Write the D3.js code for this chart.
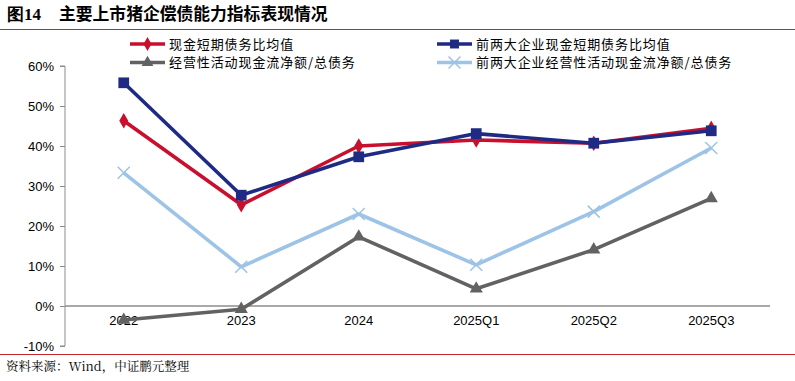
<!DOCTYPE html>
<html><head><meta charset="utf-8">
<script src="https://cdn.jsdelivr.net/npm/d3@7"></script>
<style>body{margin:0;background:#fff}svg{display:block}</style>
</head><body>
<svg id="c" width="795" height="381"></svg>
<script>
const categories = ["2022","2023","2024","2025Q1","2025Q2","2025Q3"];
const cashShortDebt = [46.3, 25.3, 40.0, 41.5, 40.7, 44.4];
const top2CashShortDebt = [55.8, 27.7, 37.3, 43.1, 40.7, 43.8];
const opCashFlowDebt = [-3.5, -0.8, 17.3, 4.3, 14.1, 26.9];
const top2OpCashFlowDebt = [33.3, 9.8, 23.0, 10.3, 23.6, 39.5];
const yTicks = [-10, 0, 10, 20, 30, 40, 50, 60];
const seriesNames = ["现金短期债务比均值","前两大企业现金短期债务比均值","经营性活动现金流净额/总债务","前两大企业经营性活动现金流净额/总债务"];

(function(){
const svg = d3.select("#c");
const pLeft = 65, pRight = 770, pTop = 66, pBottom = 346;
const x = d3.scaleBand().domain(categories).range([pLeft, pRight]);
const y = d3.scaleLinear().domain([-10, 60]).range([pBottom, pTop]);

// title
svg.append("text").attr("x", 7).attr("y", 20).attr("font-family", "'Liberation Serif', serif")
  .attr("font-weight", "bold").attr("font-size", 17).attr("fill", "#000")
  .text("图14");
svg.append("text").attr("x", 59).attr("y", 20).attr("font-family", "'Noto Sans CJK SC', sans-serif")
  .attr("font-weight", "bold").attr("font-size", 16.8).attr("fill", "#000").text("主要上市猪企偿债能力指标表现情况");
svg.append("line").attr("x1", 0).attr("x2", 795).attr("y1", 29.5).attr("y2", 29.5).attr("stroke", "#C0282E").attr("stroke-width", 1.2);
svg.append("line").attr("x1", 0).attr("x2", 795).attr("y1", 354.5).attr("y2", 354.5).attr("stroke", "#C0282E").attr("stroke-width", 1.2);
svg.append("text").attr("x", 6).attr("y", 371).attr("font-family", "'Noto Serif CJK SC', 'SimSun', 'Liberation Serif', serif")
  .attr("font-size", 12.5).attr("fill", "#000").text("资料来源：Wind，中证鹏元整理");

// y axis
const yAxis = d3.axisLeft(y).tickValues(yTicks).tickFormat(d => d + "%").tickSize(5).tickPadding(6);
const ga = svg.append("g").attr("transform", `translate(${pLeft},0)`).call(yAxis);
ga.select(".domain").attr("stroke", "#8c8c8c").attr("d", `M-5,${pTop}H0V${pBottom}H-5`);
ga.selectAll(".tick line").attr("stroke", "#8c8c8c");
ga.selectAll(".tick text").attr("font-family", "'Liberation Sans', Arial, sans-serif").attr("font-size", 13).attr("fill", "#000");

// zero line
svg.append("line").attr("x1", pLeft).attr("x2", pRight).attr("y1", y(0)).attr("y2", y(0)).attr("stroke", "#8c8c8c").attr("stroke-width", 1.3);

// x labels
const xAxis = d3.axisBottom(x).tickSize(0).tickPadding(10);
const gx = svg.append("g").attr("transform", `translate(0,${y(0)})`).call(xAxis);
gx.select(".domain").remove();
gx.selectAll(".tick text").attr("font-family", "'Liberation Sans', Arial, sans-serif").attr("font-size", 13).attr("fill", "#000");

const cx = d => x(d) + x.bandwidth() / 2;
const series = [
  {vals: opCashFlowDebt, color: "#626262", marker: "triangle"},
  {vals: top2OpCashFlowDebt, color: "#9DC3E6", marker: "x"},
  {vals: cashShortDebt, color: "#C8102E", marker: "diamond"},
  {vals: top2CashShortDebt, color: "#1F2A85", marker: "square"}
];
const line = d3.line().x((d, i) => cx(categories[i])).y(d => y(d));

function drawMarker(g, type, color, px, py, size) {
  if (type === "x") {
    const s = 6;
    g.append("path").attr("d", `M${px-s},${py-s}L${px+s},${py+s}M${px-s},${py+s}L${px+s},${py-s}`)
      .attr("stroke", color).attr("stroke-width", 1.5).attr("fill", "none");
  } else {
    const sym = {triangle: d3.symbolTriangle, diamond: d3.symbolDiamond, square: d3.symbolSquare}[type];
    const area = {triangle: 75, diamond: 70, square: 115}[type];
    g.append("path").attr("d", d3.symbol().type(sym).size(size || area)())
      .attr("transform", `translate(${px},${py})`).attr("fill", color);
  }
}

series.forEach(s => {
  const g = svg.append("g");
  g.append("path").datum(s.vals).attr("d", line).attr("fill", "none").attr("stroke", s.color)
    .attr("stroke-width", 3.6).attr("stroke-linejoin", "round");
  s.vals.forEach((v, i) => drawMarker(g, s.marker, s.color, cx(categories[i]), y(v)));
});

// legend
const legend = [
  {name: seriesNames[0], color: "#C8102E", marker: "diamond", x: 130, y: 44},
  {name: seriesNames[1], color: "#1F2A85", marker: "square", x: 437, y: 44},
  {name: seriesNames[2], color: "#626262", marker: "triangle", x: 130, y: 62.5},
  {name: seriesNames[3], color: "#9DC3E6", marker: "x", x: 437, y: 62.5}
];
legend.forEach(l => {
  const g = svg.append("g");
  g.append("line").attr("x1", l.x).attr("x2", l.x + 35).attr("y1", l.y).attr("y2", l.y)
    .attr("stroke", l.color).attr("stroke-width", 3.6);
  drawMarker(g, l.marker, l.color, l.x + 17.5, l.y, l.marker === "square" ? 80 : (l.marker === "diamond" ? 55 : 60));
  g.append("text").attr("x", l.x + 39).attr("y", l.y + 4.5).attr("font-family", "'Noto Sans CJK SC', sans-serif")
    .attr("font-size", 13).attr("letter-spacing", 0.9).attr("fill", "#000").text(l.name);
});
})();
</script>
</body></html>
